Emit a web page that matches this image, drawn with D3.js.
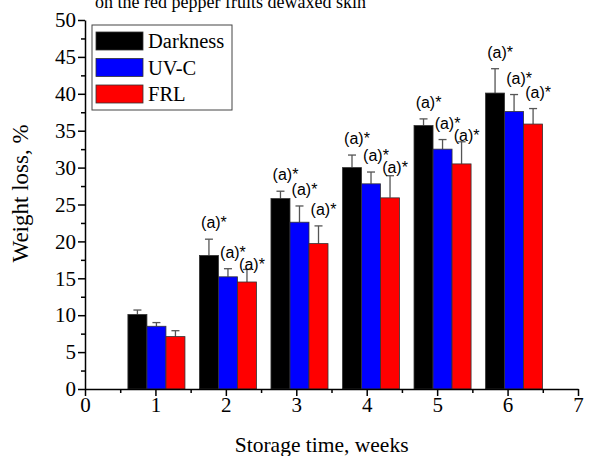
<!DOCTYPE html>
<html>
<head>
<meta charset="utf-8">
<script src="https://cdn.jsdelivr.net/npm/d3@7"></script>
<style>
  body { margin: 0; background: #fff; }
  svg { display: block; }
  .axis path, .axis line { stroke: #000; stroke-width: 1.5; }
</style>
</head>
<body>
<svg width="590" height="456"></svg>
<script>
      const weeks = [1, 2, 3, 4, 5, 6];
      const seriesNames = ['Darkness', 'UV-C', 'FRL'];
      const seriesColors = ['#000000', '#0000ff', '#ff0000'];
      const darkness = [10.1, 18.1, 25.8, 30.0, 35.7, 40.1];
      const darknessErr = [0.6, 2.2, 1.0, 1.7, 0.9, 3.3];
      const uvc = [8.5, 15.2, 22.6, 27.8, 32.5, 37.6];
      const uvcErr = [0.5, 1.1, 2.2, 1.6, 1.3, 2.3];
      const frl = [7.1, 14.5, 19.7, 25.9, 30.5, 35.9];
      const frlErr = [0.8, 1.7, 2.4, 3.0, 3.0, 2.1];
      const sigLabel = '(a)*';
      const labelledWeeks = [2, 3, 4, 5, 6];
      const xTickValues = [0, 1, 2, 3, 4, 5, 6, 7];
      const yTickValues = [0, 5, 10, 15, 20, 25, 30, 35, 40, 45, 50];
      const titleText = 'on the red pepper fruits dewaxed skin';
      const xLabel = 'Storage time, weeks';
      const yLabel = 'Weight loss, %';

      const seriesValues = [darkness, uvc, frl];
      const seriesErrors = [darknessErr, uvcErr, frlErr];
      const serif = '"Liberation Serif", "Times New Roman", serif';
      const sans = '"Liberation Sans", Arial, sans-serif';

      const svg = d3.select('svg');
      const margin = { left: 85, right: 12, top: 20, bottom: 67 };
      const width = +svg.attr('width');
      const height = +svg.attr('height');
      const innerWidth = width - margin.left - margin.right;
      const innerHeight = height - margin.top - margin.bottom;

      const g = svg.append('g')
          .attr('transform', `translate(${margin.left},${margin.top})`);

      const xScale = d3.scaleLinear().domain([0, 7]).range([0, innerWidth]);
      const yScale = d3.scaleLinear().domain([0, 50]).range([innerHeight, 0]);
      // the bar groups in the original drift slightly right of the ticks
      const groupScale = d3.scaleLinear().domain([1, 6]).range([xScale(1) + 1, xScale(6) + 6.5]);
      const barW = xScale(0.27) - xScale(0);

      // partial title cut at the top
      svg.append('text')
          .attr('x', 95)
          .attr('y', 8)
          .attr('font-family', serif)
          .attr('font-size', 18)
          .text(titleText);

      // minor ticks
      g.append('g')
          .attr('class', 'axis')
          .attr('transform', `translate(0,${innerHeight})`)
          .call(d3.axisBottom(xScale).tickValues(d3.range(0.5, 7, 1)).tickSize(4).tickFormat(''))
          .select('.domain').remove();
      g.append('g')
          .attr('class', 'axis')
          .call(d3.axisLeft(yScale).tickValues(d3.range(2.5, 50, 5)).tickSize(4).tickFormat(''))
          .select('.domain').remove();

      // bars
      const bars = [];
      weeks.forEach((w, i) => {
        seriesValues.forEach((vals, s) => {
          bars.push({ week: w, s, value: vals[i], err: seriesErrors[s][i] });
        });
      });
      const barX = d => groupScale(d.week) + (d.s - 1.5) * barW;

      g.selectAll('line.err').data(bars)
        .enter().append('line')
          .attr('class', 'err')
          .attr('x1', d => barX(d) + barW / 2)
          .attr('x2', d => barX(d) + barW / 2)
          .attr('y1', d => yScale(d.value))
          .attr('y2', d => yScale(d.value + d.err))
          .attr('stroke', '#555')
          .attr('stroke-width', 1.3);
      g.selectAll('line.cap').data(bars)
        .enter().append('line')
          .attr('class', 'cap')
          .attr('x1', d => barX(d) + barW / 2 - 4)
          .attr('x2', d => barX(d) + barW / 2 + 4)
          .attr('y1', d => yScale(d.value + d.err))
          .attr('y2', d => yScale(d.value + d.err))
          .attr('stroke', '#555')
          .attr('stroke-width', 1.3);

      g.selectAll('rect.bar').data(bars)
        .enter().append('rect')
          .attr('class', 'bar')
          .attr('x', barX)
          .attr('y', d => yScale(d.value))
          .attr('width', barW)
          .attr('height', d => yScale(0) - yScale(d.value))
          .attr('fill', d => seriesColors[d.s])
          .attr('stroke', '#333')
          .attr('stroke-width', 0.8);

      // significance labels, stepped down within each group
      const labels = [];
      labelledWeeks.forEach(w => {
        let prev = null;
        bars.filter(b => b.week === w).forEach(b => {
          let y = yScale(b.value + b.err) - 11;
          if (prev !== null) y = Math.max(y, prev + 12);
          prev = y;
          labels.push({ x: barX(b) + barW / 2 + 5, y });
        });
      });
      g.selectAll('text.sig').data(labels)
        .enter().append('text')
          .attr('class', 'sig')
          .attr('x', d => d.x)
          .attr('y', d => d.y)
          .attr('text-anchor', 'middle')
          .attr('font-family', sans)
          .attr('font-size', 16)
          .text(sigLabel);

      // axes
      const xAxisG = g.append('g')
          .attr('class', 'axis')
          .attr('transform', `translate(0,${innerHeight})`)
          .call(d3.axisBottom(xScale).tickValues(xTickValues).tickFormat(d3.format('d'))
            .tickSize(7).tickPadding(1).tickSizeOuter(0));
      const yAxisG = g.append('g')
          .attr('class', 'axis')
          .call(d3.axisLeft(yScale).tickValues(yTickValues).tickFormat(d3.format('d'))
            .tickSize(7).tickPadding(2).tickSizeOuter(0));
      [xAxisG, yAxisG].forEach(a => a
          .attr('font-family', serif)
          .attr('font-size', 21)
          .selectAll('.tick text').attr('fill', '#000'));

      xAxisG.append('text')
          .attr('x', xScale(3.36))
          .attr('y', 63)
          .attr('fill', '#000')
          .attr('text-anchor', 'middle')
          .attr('font-size', 21.5)
          .text(xLabel);
      yAxisG.append('text')
          .attr('transform', 'rotate(-90)')
          .attr('x', -yScale(26.5))
          .attr('y', -57)
          .attr('fill', '#000')
          .attr('text-anchor', 'middle')
          .attr('font-size', 23)
          .text(yLabel);

      // legend
      const legend = svg.append('g').attr('transform', 'translate(92,25)');
      legend.append('rect')
          .attr('width', 140).attr('height', 85)
          .attr('fill', '#fff').attr('stroke', '#444').attr('stroke-width', 1);
      seriesNames.forEach((name, i) => {
        const row = legend.append('g').attr('transform', `translate(4,${7 + i * 26.5})`);
        row.append('rect')
            .attr('width', 47).attr('height', 18)
            .attr('fill', seriesColors[i]).attr('stroke', '#333').attr('stroke-width', 0.8);
        row.append('text')
            .attr('x', 52).attr('y', 16)
            .attr('font-family', serif)
            .attr('font-size', 20.5)
            .text(name);
      });
</script>
</body>
</html>
